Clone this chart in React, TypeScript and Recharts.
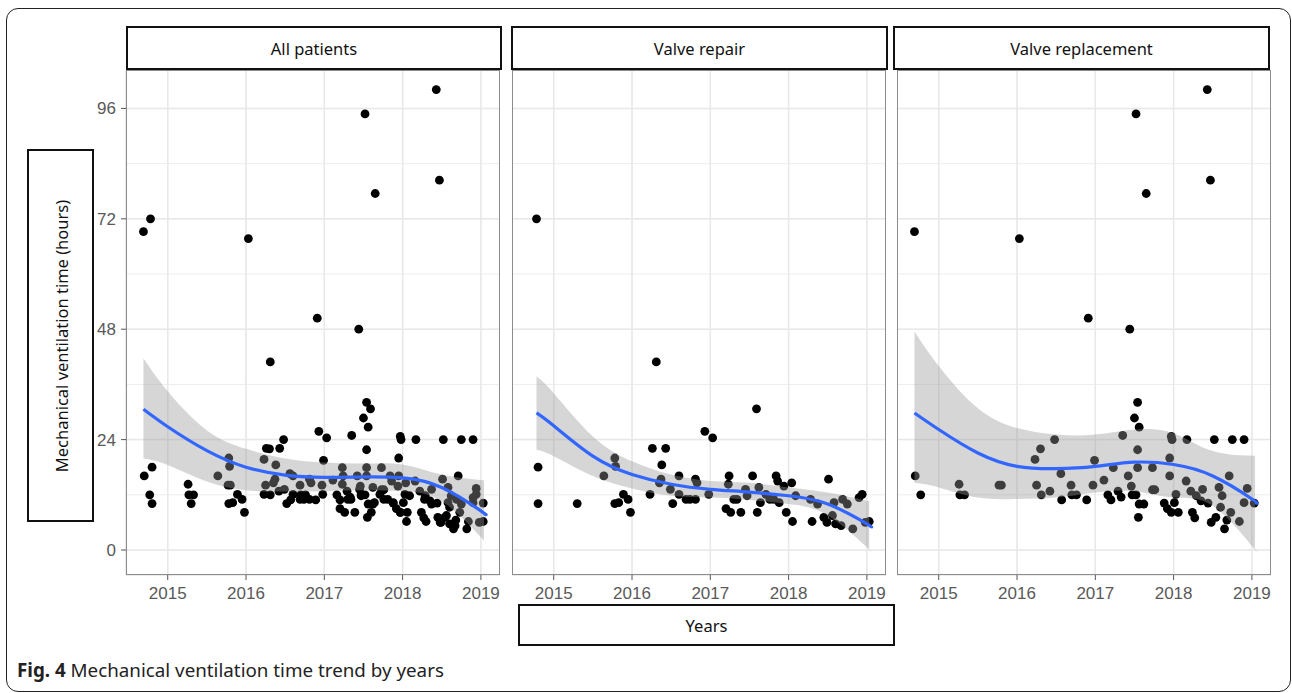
import React from 'react'
import { ComposedChart, Scatter, Line, Area, XAxis, YAxis, CartesianGrid } from 'recharts'

// axes
const YEAR_TICKS = [2015, 2016, 2017, 2018, 2019]
const HOUR_TICKS = [0, 24, 48, 72, 96]
const YEAR_GRID = [2014.5, 2015, 2015.5, 2016, 2016.5, 2017, 2017.5, 2018, 2018.5, 2019]
const HOUR_GRID = [0, 12, 24, 36, 48, 60, 72, 84, 96]
const X_DOMAIN: [number, number] = [2014.467, 2019.244]
const Y_DOMAIN: [number, number] = [-5.43, 104.35]

const TITLES = ['All patients', 'Valve repair', 'Valve replacement']

// [year, hours] — valve repair
const repairPoints: [number, number][] = [
  [2014.78, 72.0], [2014.80, 18.0], [2014.80, 10.1], [2015.30, 10.1], [2015.64, 16.1],
  [2015.78, 20.0], [2015.79, 18.2], [2015.78, 10.1], [2015.83, 10.3], [2015.89, 12.1],
  [2015.95, 11.0], [2015.98, 8.2], [2016.23, 12.1], [2016.26, 22.1], [2016.31, 40.9],
  [2016.35, 14.6], [2016.37, 15.4], [2016.38, 18.5], [2016.43, 22.1], [2016.49, 13.2],
  [2016.52, 10.1], [2016.60, 16.1], [2016.60, 12.1], [2016.69, 11.0], [2016.74, 11.0],
  [2016.81, 15.4], [2016.83, 14.6], [2016.81, 11.0], [2016.93, 25.8], [2016.98, 12.1],
  [2017.03, 24.4], [2017.20, 9.0], [2017.23, 14.3], [2017.24, 16.1], [2017.26, 8.2],
  [2017.30, 11.0], [2017.34, 11.0], [2017.39, 8.2], [2017.45, 13.2], [2017.47, 11.8],
  [2017.54, 16.1], [2017.59, 30.7], [2017.60, 8.2], [2017.62, 13.6], [2017.64, 10.3],
  [2017.71, 12.1], [2017.76, 11.0], [2017.81, 11.0], [2017.84, 16.1], [2017.86, 15.0],
  [2017.88, 10.3], [2017.94, 13.9], [2017.97, 8.2], [2018.04, 14.6], [2018.05, 6.2],
  [2018.09, 11.8], [2018.28, 11.0], [2018.30, 6.2], [2018.37, 10.0], [2018.45, 7.1],
  [2018.49, 6.0], [2018.51, 15.4], [2018.56, 7.5], [2018.58, 10.3], [2018.60, 5.7],
  [2018.67, 5.3], [2018.69, 11.0], [2018.75, 10.0], [2018.82, 4.6], [2018.90, 11.4],
  [2018.94, 12.1], [2018.98, 6.0], [2019.03, 6.2],
]

// [year, hours] — valve replacement
const replacePoints: [number, number][] = [
  [2014.69, 69.2], [2014.70, 16.1], [2014.77, 12.0], [2015.26, 14.3], [2015.27, 12.0],
  [2015.33, 12.0], [2015.77, 14.1], [2015.80, 14.1], [2016.03, 67.7], [2016.23, 19.7],
  [2016.25, 14.1], [2016.30, 22.0], [2016.31, 12.0], [2016.42, 12.8], [2016.48, 24.0],
  [2016.56, 16.6], [2016.57, 10.9], [2016.69, 14.1], [2016.70, 12.0], [2016.76, 12.0],
  [2016.89, 10.9], [2016.91, 50.4], [2016.97, 14.1], [2016.99, 19.5], [2017.11, 15.2],
  [2017.16, 12.0], [2017.20, 10.9], [2017.23, 17.9], [2017.29, 12.8], [2017.33, 11.5],
  [2017.35, 24.9], [2017.42, 16.1], [2017.44, 48.0], [2017.46, 13.9], [2017.47, 12.0],
  [2017.50, 28.7], [2017.52, 94.8], [2017.52, 12.0], [2017.54, 32.1], [2017.54, 21.8],
  [2017.54, 17.9], [2017.55, 7.1], [2017.56, 26.7], [2017.56, 10.0], [2017.62, 10.0],
  [2017.65, 77.5], [2017.73, 17.9], [2017.73, 13.1], [2017.76, 13.1], [2017.88, 10.2],
  [2017.92, 9.0], [2017.95, 20.0], [2017.95, 16.1], [2017.97, 24.7], [2017.98, 24.0],
  [2017.97, 8.2], [2018.01, 10.3], [2018.03, 12.1], [2018.06, 8.2], [2018.16, 15.0],
  [2018.17, 24.0], [2018.22, 12.8], [2018.24, 8.2], [2018.27, 7.0], [2018.29, 11.8],
  [2018.35, 10.7], [2018.37, 13.2], [2018.43, 100.1], [2018.44, 10.2], [2018.47, 80.4],
  [2018.48, 6.0], [2018.52, 24.0], [2018.54, 7.1], [2018.58, 13.6], [2018.60, 9.3],
  [2018.62, 11.8], [2018.65, 4.6], [2018.68, 6.5], [2018.71, 16.1], [2018.73, 8.2],
  [2018.75, 24.0], [2018.84, 6.2], [2018.90, 24.0], [2018.90, 10.3], [2018.94, 13.4],
  [2019.03, 10.2],
]

// smoother + confidence band
const FIT_X_ALL = [2014.69, 2015, 2015.5, 2016, 2016.5, 2017, 2017.5, 2018, 2018.5, 2019, 2019.04]
const FIT_ALL = [30.6, 26.8, 21.6, 18.0, 16.3, 15.8, 15.9, 15.7, 13.6, 8.5, 7.9]
const LO_ALL = [19.9, 18.5, 14.9, 13.0, 12.7, 12.8, 13.0, 12.8, 10.6, 2.8, 2.0]
const HI_ALL = [41.7, 34.5, 26.0, 22.0, 19.9, 19.0, 18.8, 18.6, 16.4, 15.2, 15.1]

const FIT_X_REP = [2014.78, 2015, 2015.5, 2016, 2016.5, 2017, 2017.5, 2018, 2018.5, 2019, 2019.03]
const FIT_REP = [29.8, 27.0, 20.4, 16.4, 14.3, 13.2, 12.6, 11.8, 10.0, 5.7, 5.3]
const LO_REP = [21.8, 20.4, 16.1, 13.4, 11.8, 11.4, 10.9, 10.0, 7.5, 0.6, 0.2]
const HI_REP = [37.7, 34.1, 24.7, 19.3, 16.4, 15.0, 14.6, 13.6, 12.5, 10.7, 10.6]

const FIT_X_RPL = [2014.69, 2015, 2015.5, 2016, 2016.5, 2017, 2017.5, 2018, 2018.5, 2019, 2019.04]
const FIT_RPL = [29.8, 26.2, 21.1, 18.2, 17.7, 18.2, 19.1, 18.6, 16.1, 11.1, 10.3]
const LO_RPL = [14.6, 13.6, 11.4, 11.1, 11.4, 12.5, 12.8, 11.4, 9.6, 0.9, 0.3]
const HI_RPL = [47.5, 40.0, 30.8, 26.5, 25.1, 25.1, 26.2, 25.4, 21.5, 20.5, 20.5]

const toRows = (pts: [number, number][]) => pts.map(([x, y]) => ({ x, y }))
const toFit = (xs: number[], fit: number[], lo: number[], hi: number[]) =>
  xs.map((x, i) => ({ x, fit: fit[i], band: [lo[i], hi[i]] }))

const PANEL_DATA = [
  { points: toRows([...repairPoints, ...replacePoints]), fit: toFit(FIT_X_ALL, FIT_ALL, LO_ALL, HI_ALL) },
  { points: toRows(repairPoints), fit: toFit(FIT_X_REP, FIT_REP, LO_REP, HI_REP) },
  { points: toRows(replacePoints), fit: toFit(FIT_X_RPL, FIT_RPL, LO_RPL, HI_RPL) },
]

// layout
const PLOT_TOP = 70
const PLOT_W = 374
const PLOT_H = 505
const Y_AXIS_W = 50
const X_AXIS_H = 35
const PLOT_LEFT = [126, 512, 897]
const STRIP_LEFT = [126, 511, 893]
const STRIP_W = [376, 377, 377]

const TICK_FONT = '"Liberation Sans", Arial, sans-serif'
const LABEL_FONT = '"Noto Sans", "Open Sans", sans-serif'
const TICK_COLOR = '#595959'

const boxStyle: React.CSSProperties = {
  position: 'absolute',
  boxSizing: 'border-box',
  border: '2px solid #111',
  background: '#fff',
}

function Dot(props: any) {
  const { cx, cy } = props
  if (cx == null || cy == null) return null
  return <circle cx={cx} cy={cy} r={4.4} fill="#000" />
}

function Panel({ idx }: { idx: number }) {
  const showY = idx === 0
  const { points, fit } = PANEL_DATA[idx]
  const w = PLOT_W + (showY ? Y_AXIS_W : 0)
  return (
    <div style={{ position: 'absolute', left: PLOT_LEFT[idx] - (showY ? Y_AXIS_W : 0), top: PLOT_TOP }}>
      <ComposedChart width={w} height={PLOT_H + X_AXIS_H} margin={{ top: 0, right: 0, bottom: 0, left: 0 }}>
        <XAxis xAxisId="minor" dataKey="x" type="number" domain={X_DOMAIN} ticks={YEAR_GRID} hide allowDataOverflow />
        <YAxis yAxisId="minor" type="number" domain={Y_DOMAIN} ticks={HOUR_GRID} hide allowDataOverflow />
        <CartesianGrid xAxisId="minor" yAxisId="minor" stroke="#ededed" strokeWidth={1} />
        <CartesianGrid stroke="#e8e8e8" strokeWidth={1.5} />
        <XAxis
          dataKey="x"
          type="number"
          domain={X_DOMAIN}
          ticks={YEAR_TICKS}
          interval={0}
          allowDataOverflow
          axisLine={false}
          tickLine={{ stroke: '#555' }}
          tickSize={5}
          tickMargin={7}
          height={X_AXIS_H}
          tick={{ fill: TICK_COLOR, fontSize: 17, fontFamily: TICK_FONT }}
        />
        <YAxis
          type="number"
          domain={Y_DOMAIN}
          ticks={HOUR_TICKS}
          interval={0}
          allowDataOverflow
          hide={!showY}
          width={Y_AXIS_W}
          axisLine={false}
          tickLine={{ stroke: '#555' }}
          tickSize={5}
          tickMargin={5}
          tick={{ fill: TICK_COLOR, fontSize: 17, fontFamily: TICK_FONT }}
        />
        <Scatter data={points} dataKey="y" shape={Dot} isAnimationActive={false} zIndex={50} />
        <Area
          data={fit}
          dataKey="band"
          type="natural"
          stroke="none"
          fill="#999999"
          fillOpacity={0.4}
          isAnimationActive={false}
          zIndex={100}
        />
        <Line
          data={fit}
          dataKey="fit"
          type="natural"
          stroke="#3366ff"
          strokeWidth={3.2}
          dot={false}
          activeDot={false}
          isAnimationActive={false}
          zIndex={400}
        />
      </ComposedChart>
      <div
        style={{
          position: 'absolute',
          left: showY ? Y_AXIS_W : 0,
          top: 0,
          width: PLOT_W,
          height: PLOT_H,
          boxSizing: 'border-box',
          border: '1.5px solid #8c8c8c',
          pointerEvents: 'none',
        }}
      />
    </div>
  )
}

function Strip({ idx }: { idx: number }) {
  return (
    <div style={{ ...boxStyle, left: STRIP_LEFT[idx], top: 26, width: STRIP_W[idx], height: 44 }}>
      <div
        style={{
          position: 'absolute',
          left: 0,
          right: 0,
          top: 11,
          textAlign: 'center',
          fontFamily: LABEL_FONT,
          fontSize: 16.5,
          lineHeight: '20px',
          color: '#111',
          whiteSpace: 'nowrap',
        }}
      >
        {TITLES[idx]}
      </div>
    </div>
  )
}

export default function App() {
  return (
    <div style={{ position: 'absolute', left: 0, top: 0, width: 1292, height: 693, background: '#fff', overflow: 'hidden' }}>
      <div
        style={{
          position: 'absolute',
          left: 6,
          top: 8,
          width: 1285,
          height: 684,
          boxSizing: 'border-box',
          border: '1.5px solid #222',
          borderRadius: 12,
        }}
      />
      {[0, 1, 2].map(i => <Panel key={i} idx={i} />)}
      {[0, 1, 2].map(i => <Strip key={i} idx={i} />)}

      <div style={{ ...boxStyle, left: 27, top: 149, width: 67, height: 373 }}>
        <div
          style={{
            position: 'absolute',
            left: '50%',
            top: '50%',
            transform: 'translate(-50%, -50%) rotate(-90deg)',
            fontFamily: LABEL_FONT,
            fontSize: 16.5,
            color: '#111',
            whiteSpace: 'nowrap',
          }}
        >
          Mechanical ventilation time (hours)
        </div>
      </div>

      <div
        style={{
          ...boxStyle,
          left: 518,
          top: 604,
          width: 377,
          height: 42,
          display: 'flex',
          alignItems: 'center',
          justifyContent: 'center',
          fontFamily: LABEL_FONT,
          fontSize: 16.5,
          color: '#111',
        }}
      >
        Years
      </div>

      <div
        style={{
          position: 'absolute',
          left: 17,
          top: 661,
          fontFamily: LABEL_FONT,
          fontSize: 18.8,
          lineHeight: '19px',
          color: '#222',
          whiteSpace: 'nowrap',
        }}
      >
        <b>Fig. 4</b> Mechanical ventilation time trend by years
      </div>
    </div>
  )
}
